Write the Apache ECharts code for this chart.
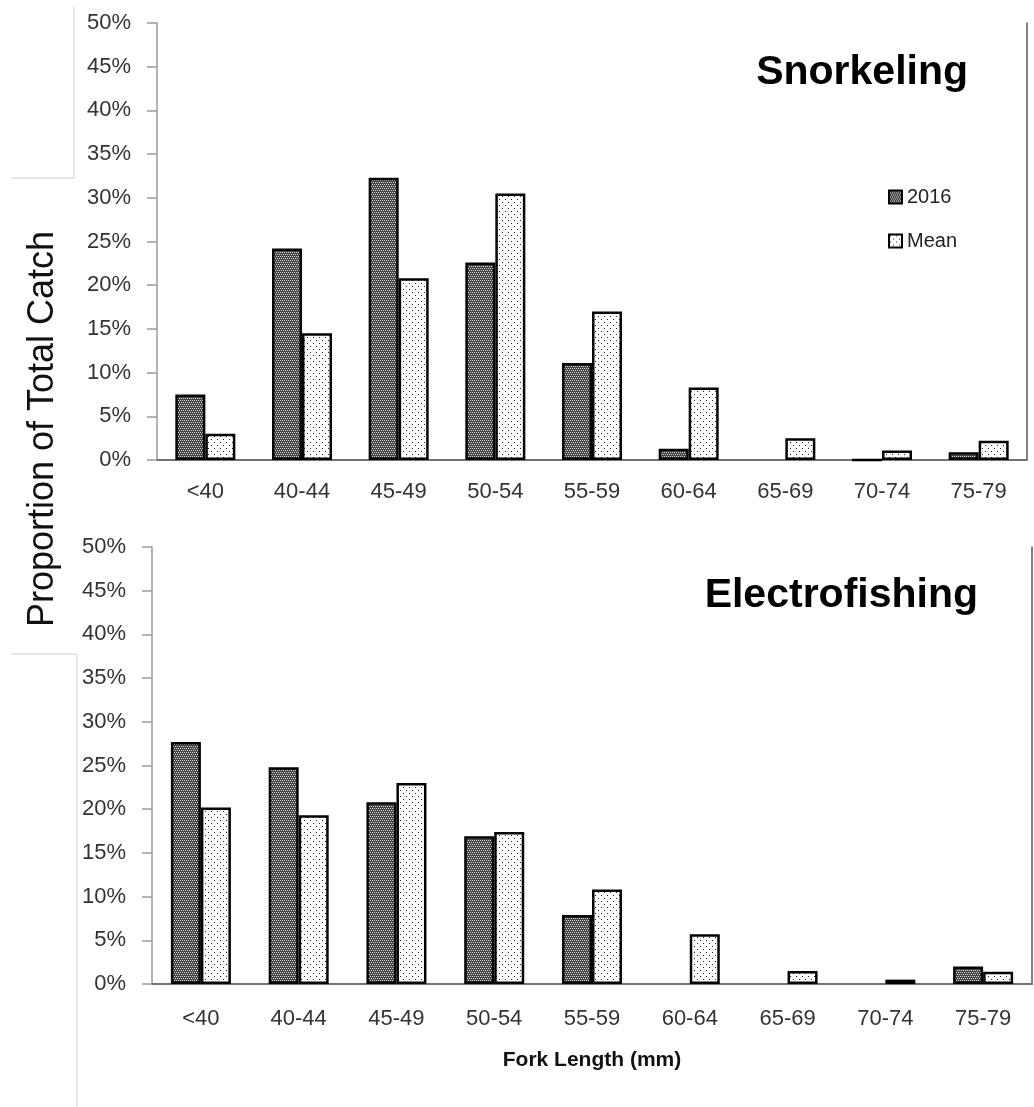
<!DOCTYPE html>
<html>
<head>
<meta charset="utf-8">
<script src="https://cdn.jsdelivr.net/npm/echarts@6/dist/echarts.min.js"></script>
<style>
html,body{margin:0;padding:0;background:#fff;}
#c{width:1034px;height:1107px;}
</style>
</head>
<body>
<div id="c"></div>
<script>
// ---- data ----
const categories = ['<40','40-44','45-49','50-54','55-59','60-64','65-69','70-74','75-79'];
const snork2016 = [7.5, 24.2, 32.3, 22.6, 11.1, 1.3, null, 0, 0.9];
const snorkMean = [3.0, 14.5, 20.8, 30.5, 17.0, 8.3, 2.5, 1.1, 2.2];
const elec2016  = [27.7, 24.8, 20.8, 16.9, 7.9, null, null, null, 2.0];
const elecMean  = [20.2, 19.3, 23.0, 17.4, 10.8, 5.7, 1.5, 0.5, 1.4];
const yTicks = [0, 5, 10, 15, 20, 25, 30, 35, 40, 45, 50];
const seriesNames = ['2016', 'Mean'];
const panelTitles = ['Snorkeling', 'Electrofishing'];

// ---- patterns ----
function makePattern(w, h, bg, dotColor, dots) {
  const cv = document.createElement('canvas');
  cv.width = w; cv.height = h;
  const ctx = cv.getContext('2d');
  ctx.fillStyle = bg; ctx.fillRect(0, 0, w, h);
  ctx.fillStyle = dotColor;
  dots.forEach(d => ctx.fillRect(d[0], d[1], 1, 1));
  return { image: cv, repeat: 'repeat' };
}
const darkPat = makePattern(4, 4, '#444', '#d8d8d8', [[0,0],[2,0],[1,2],[3,2]]);
const dotPat = makePattern(6, 6, '#ffffff', '#222', [[1,1],[4,4]]);

const FONT = 'Liberation Sans';
const chart = echarts.init(document.getElementById('c'));

const grids = [
  { left: 157, top: 23, right: 7, bottom: 647 },
  { left: 152, top: 547, right: 2, bottom: 123 }
];

function mainX(i) {
  return {
    type: 'category', gridIndex: i, data: categories,
    axisLine: { lineStyle: { color: '#a6a6a6', width: 1.5 } },
    axisTick: { show: false },
    axisLabel: { color: '#333', fontFamily: FONT, fontSize: 22, margin: i === 0 ? 21 : 24, interval: 0 },
    name: i === 1 ? 'Fork Length (mm)' : '',
    nameLocation: 'middle', nameGap: 66,
    nameTextStyle: { color: '#111', fontFamily: FONT, fontWeight: 'bold', fontSize: 21 }
  };
}
function topX(i) {
  return {
    type: 'category', gridIndex: i, data: categories, position: 'top',
    axisLine: { lineStyle: { color: '#595959', width: 1.5 } },
    axisTick: { show: false }, axisLabel: { show: false }
  };
}
function mainY(i) {
  return {
    type: 'value', gridIndex: i, min: yTicks[0], max: yTicks[yTicks.length - 1], interval: yTicks[1] - yTicks[0],
    axisLine: { show: true, lineStyle: { color: '#9a9a9a', width: 1.5 } },
    axisTick: { show: true, inside: false, length: 10, lineStyle: { color: '#9a9a9a', width: 1.5 } },
    splitLine: { show: false },
    axisLabel: { color: '#333', fontFamily: FONT, fontSize: 22, margin: 26, formatter: '{value}%' }
  };
}
function rightY(i) {
  return {
    type: 'value', gridIndex: i, position: 'right', min: 0, max: 50,
    axisLine: { show: true, lineStyle: { color: '#595959', width: 1.5 } },
    axisTick: { show: false }, axisLabel: { show: false }, splitLine: { show: false }
  };
}

function barSeries(name, data, gi, pat) {
  return {
    type: 'bar', name: name, data: data,
    xAxisIndex: gi * 2, yAxisIndex: gi * 2,
    barWidth: 30, barGap: '0%',
    itemStyle: { color: pat, borderColor: '#000', borderWidth: 2.5 },
    emphasis: { disabled: true },
    animation: false
  };
}

const option = {
  animation: false,
  backgroundColor: '#fff',
  title: [
    { text: panelTitles[0], right: 66, top: 52, padding: 0,
      textStyle: { fontFamily: FONT, fontWeight: 'bold', fontSize: 41, color: '#000' } },
    { text: panelTitles[1], right: 56, top: 575, padding: 0,
      textStyle: { fontFamily: FONT, fontWeight: 'bold', fontSize: 41, color: '#000' } }
  ],
  legend: {
    data: seriesNames, orient: 'vertical', left: 888, top: 187,
    itemWidth: 13, itemHeight: 13, itemGap: 24, padding: 0,
    icon: 'rect',
    textStyle: { fontFamily: FONT, fontSize: 20, color: '#222' },
    itemStyle: { borderColor: '#000', borderWidth: 2 }
  },
  grid: grids,
  xAxis: [mainX(0), topX(0), mainX(1), topX(1)],
  yAxis: [mainY(0), rightY(0), mainY(1), rightY(1)],
  series: [
    barSeries(seriesNames[0], snork2016, 0, darkPat),
    barSeries(seriesNames[1], snorkMean, 0, dotPat),
    barSeries(seriesNames[0], elec2016, 1, darkPat),
    barSeries(seriesNames[1], elecMean, 1, dotPat)
  ],
  graphic: [
    { type: 'polyline', shape: { points: [[74, 7], [74, 178], [11, 178]] },
      style: { stroke: '#cfcfcf', lineWidth: 1, fill: null }, silent: true },
    { type: 'polyline', shape: { points: [[11, 654], [77, 654], [77, 1107]] },
      style: { stroke: '#cfcfcf', lineWidth: 1, fill: null }, silent: true },
    { type: 'text', x: 43, y: 429, rotation: Math.PI / 2,
      style: { text: 'Proportion of Total Catch', fontFamily: FONT, fontSize: 36, fill: '#111',
               textAlign: 'center', textVerticalAlign: 'middle' }, silent: true }
  ]
};
chart.setOption(option);
</script>
</body>
</html>
